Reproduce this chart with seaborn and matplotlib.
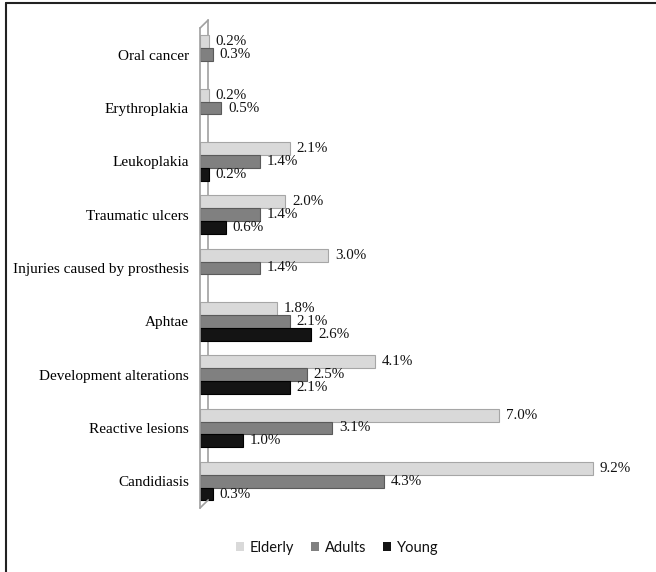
import numpy as np
import pandas as pd
import matplotlib
matplotlib.use("Agg")
import matplotlib.pyplot as plt
from matplotlib.lines import Line2D
from matplotlib.patches import Patch
import seaborn as sns

# ------------------------------- Data ------------------------------- #
lesions = ["Oral cancer", "Erythroplakia", "Leukoplakia", "Traumatic ulcers",
           "Injuries caused by prosthesis", "Aphtae", "Development alterations",
           "Reactive lesions", "Candidiasis"]
groups = ["Elderly", "Adults", "Young"]
elderly = [0.2, 0.2, 2.1, 2.0, 3.0, 1.8, 4.1, 7.0, 9.2]
adults = [0.3, 0.5, 1.4, 1.4, 1.4, 2.1, 2.5, 3.1, 4.3]
young = [np.nan, np.nan, 0.2, 0.6, np.nan, 2.6, 2.1, 1.0, 0.3]
colors = ["#d9d9d9", "#808080", "#141414"]
edges = ["#a6a6a6", "#5a5a5a", "#000000"]

df = pd.DataFrame({"lesion": lesions * 3,
                   "group": np.repeat(groups, len(lesions)),
                   "value": elderly + adults + young})

# ------------------------------- Plot ------------------------------- #
sns.set_style("white")
plt.rcParams["font.family"] = ["Liberation Serif", "DejaVu Serif"]

fig = plt.figure(figsize=(6.56, 5.72), dpi=100)
ax = fig.add_axes([0.305, 0.112, 0.651, 0.839])

sns.barplot(data=df, y="lesion", x="value", hue="group", order=lesions,
            hue_order=groups, palette=colors, orient="h", width=0.72,
            errorbar=None, legend=False, ax=ax)

for cont, ec in zip(ax.containers, edges):
    for p in cont:
        p.set_edgecolor(ec)
        p.set_linewidth(0.8)
    labels = ["" if np.isnan(p.get_width()) else f"{p.get_width():.1f}%" for p in cont]
    ax.bar_label(cont, labels=labels, padding=5, fontsize=10.8, color="#111111")

ax.set_xlim(0, 10)
ax.set_ylim(len(lesions) - 0.5, -0.5)
ax.set_xlabel("")
ax.set_ylabel("")
ax.set_xticks([])
ax.tick_params(axis="y", which="major", length=0, pad=8, labelsize=11.0)
ax.set_yticks(np.arange(-0.5, len(lesions)), minor=True)
ax.tick_params(axis="y", which="minor", length=5, color="#8c8c8c", width=1)
for lbl in ax.get_yticklabels():
    lbl.set_color("#000000")

for s in ["top", "right", "bottom"]:
    ax.spines[s].set_visible(False)
ax.spines["left"].set_color("#a0a0a0")
ax.spines["left"].set_linewidth(1.2)

# 3D-style back wall line
gc = "#a0a0a0"
top, bot = -0.5, len(lesions) - 0.5
ax.plot([0.19, 0.19], [top - 0.15, bot - 0.15], color=gc, lw=1.2, zorder=0, clip_on=False)
ax.plot([0, 0.19], [top, top - 0.15], color=gc, lw=1.2, clip_on=False)
ax.plot([0, 0.19], [bot, bot - 0.15], color=gc, lw=1.2, clip_on=False)

# legend
handles = [Patch(facecolor=c, edgecolor="none") for c in colors]
leg = fig.legend(handles, groups, ncol=3, loc="center", bbox_to_anchor=(0.514, 0.042),
                 frameon=False, handlelength=0.55, handleheight=0.55, handletextpad=0.45,
                 columnspacing=1.1, prop={"family": "Lato", "size": 10.5})
for t in leg.get_texts():
    t.set_color("#111111")

# page border (top and left)
fig.add_artist(Line2D([6 / 656, 1], [1 - 3 / 572, 1 - 3 / 572], color="#222222", lw=1.5))
fig.add_artist(Line2D([6 / 656, 6 / 656], [0, 1 - 3 / 572], color="#222222", lw=1.5))

fig.savefig("out.png", dpi=100)
